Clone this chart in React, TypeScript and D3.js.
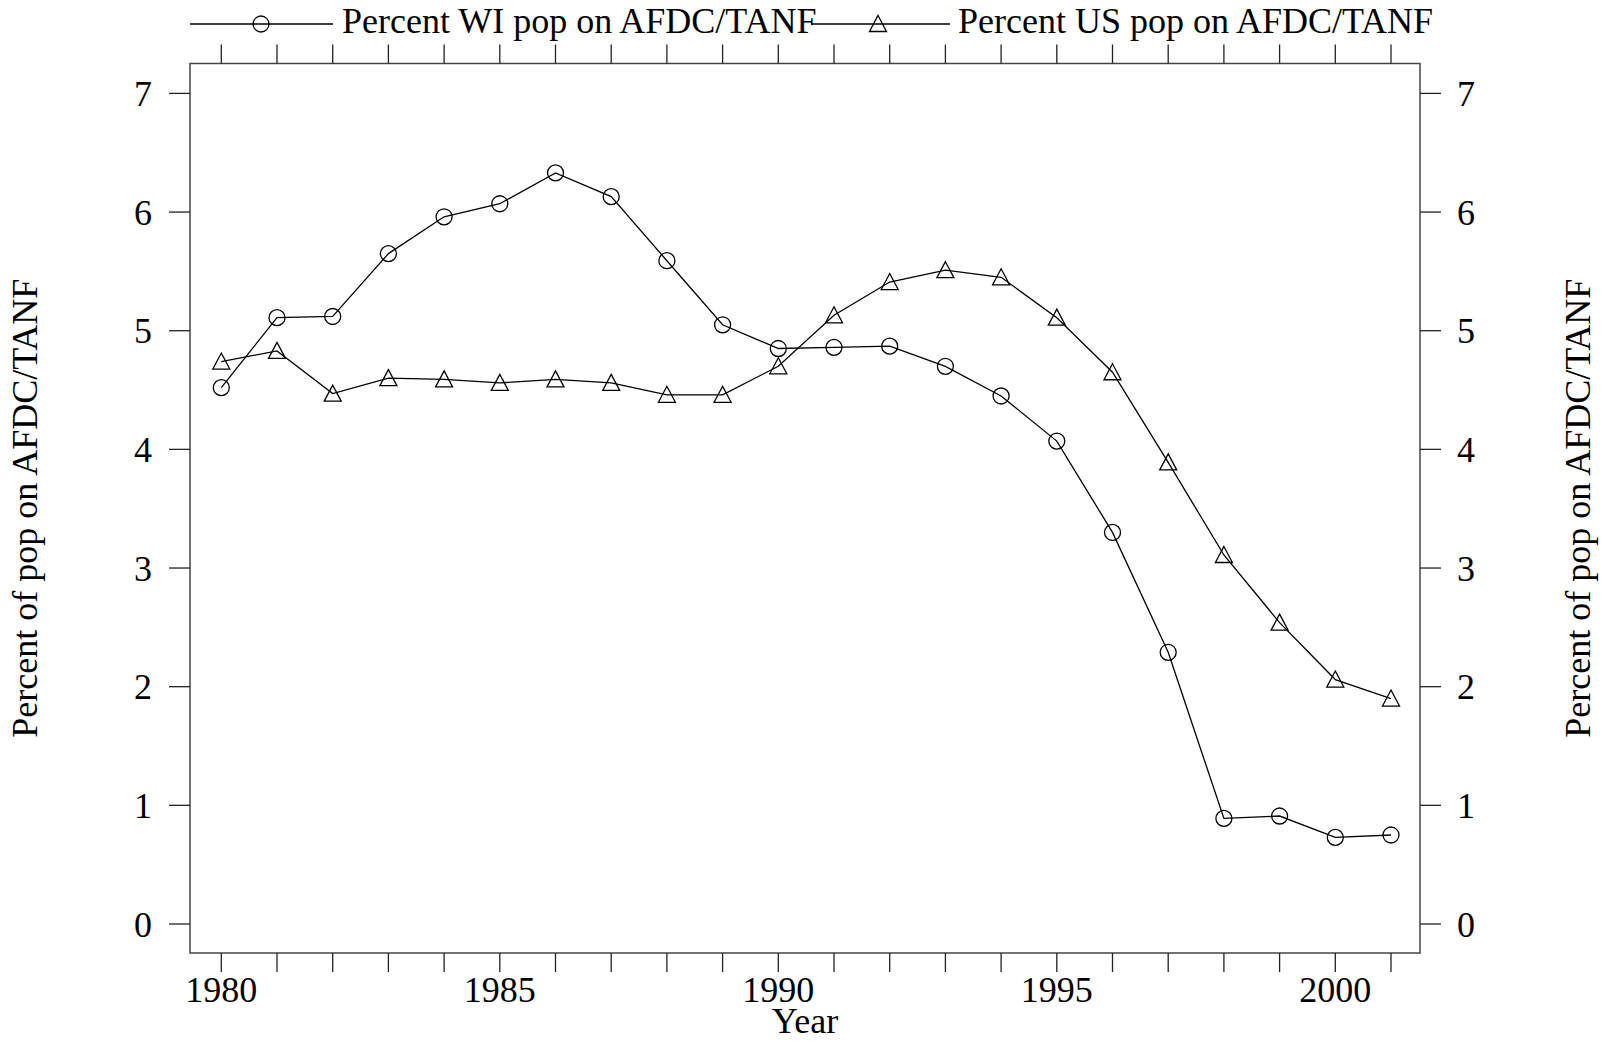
import React from 'react';
import * as d3 from 'd3';

// years on the x axis
const years = [1980, 1981, 1982, 1983, 1984, 1985, 1986, 1987, 1988, 1989, 1990,
  1991, 1992, 1993, 1994, 1995, 1996, 1997, 1998, 1999, 2000, 2001];

// percent of Wisconsin population on AFDC/TANF
const wiPct = [4.52, 5.11, 5.12, 5.65, 5.96, 6.07, 6.33, 6.13, 5.59, 5.05, 4.85,
  4.86, 4.87, 4.70, 4.45, 4.07, 3.30, 2.29, 0.89, 0.91, 0.73, 0.75];

// percent of US population on AFDC/TANF
const usPct = [4.74, 4.83, 4.47, 4.60, 4.59, 4.56, 4.59, 4.56, 4.46, 4.46, 4.70,
  5.13, 5.41, 5.51, 5.45, 5.11, 4.65, 3.89, 3.11, 2.54, 2.06, 1.90];

const xLabels = [1980, 1985, 1990, 1995, 2000];
const yTicks = [0, 1, 2, 3, 4, 5, 6, 7];

const seriesNames = ['Percent WI pop on AFDC/TANF', 'Percent US pop on AFDC/TANF'];
const yTitle = 'Percent of pop on AFDC/TANF';
const xTitle = 'Year';

const W = 1610, H = 1042;
const left = 190, right = 1420, top = 63.5, bottom = 953;
const font = '"Liberation Serif", "Times New Roman", serif';
const fs = 36;

const x = d3.scaleLinear().domain([1980, 2001]).range([221.3, 1391]);
const y = d3.scaleLinear().domain([0, 7]).range([924, 93.4]);

const line = d3.line<number>()
  .x((d, i) => x(years[i]))
  .y(d => y(d));

// triangle path centred on its box
const tri = 'M0,-8.5 L8.5,7.5 L-8.5,7.5 Z';

function Circle({ cx, cy }: { cx: number; cy: number }) {
  return <circle cx={cx} cy={cy} r={8} fill="none" stroke="#000" strokeWidth={1.3} />;
}
function Tri({ cx, cy }: { cx: number; cy: number }) {
  return <path d={tri} transform={`translate(${cx},${cy})`} fill="none" stroke="#000" strokeWidth={1.3} />;
}

export default function App() {
  const tickStroke = '#222';
  return (
    <svg width={W} height={H} style={{ position: 'absolute', left: 0, top: 0, background: '#fff' }}
      fontFamily={font}>
      <rect x={0} y={0} width={W} height={H} fill="#fff" />

      {/* legend */}
      <g>
        <line x1={190} x2={333} y1={24} y2={24} stroke="#000" strokeWidth={1.3} />
        <Circle cx={261} cy={24} />
        <text x={342} y={33} fontSize={fs}>{seriesNames[0]}</text>
        <line x1={811} x2={950} y1={24} y2={24} stroke="#000" strokeWidth={1.3} />
        <Tri cx={878} cy={24} />
        <text x={958} y={33} fontSize={fs}>{seriesNames[1]}</text>
      </g>

      {/* frame */}
      <rect x={left} y={top} width={right - left} height={bottom - top}
        fill="none" stroke="#444" strokeWidth={1.5} />

      {/* x ticks top and bottom */}
      {years.map(yr => (
        <g key={yr}>
          <line x1={x(yr)} x2={x(yr)} y1={bottom} y2={bottom + 19} stroke={tickStroke} strokeWidth={1.3} />
          <line x1={x(yr)} x2={x(yr)} y1={top} y2={top - 19} stroke={tickStroke} strokeWidth={1.3} />
        </g>
      ))}
      {xLabels.map(yr => (
        <text key={yr} x={x(yr)} y={1002} fontSize={fs} textAnchor="middle">{yr}</text>
      ))}
      <text x={(left + right) / 2} y={1033} fontSize={fs} textAnchor="middle">{xTitle}</text>

      {/* y ticks left and right */}
      {yTicks.map(t => (
        <g key={t}>
          <line x1={left - 21} x2={left} y1={y(t)} y2={y(t)} stroke={tickStroke} strokeWidth={1.3} />
          <line x1={right} x2={right + 21} y1={y(t)} y2={y(t)} stroke={tickStroke} strokeWidth={1.3} />
          <text x={152} y={y(t)} dy="0.35em" fontSize={fs} textAnchor="end">{t}</text>
          <text x={1457} y={y(t)} dy="0.35em" fontSize={fs} textAnchor="start">{t}</text>
        </g>
      ))}
      <text transform={`translate(37,${(top + bottom) / 2}) rotate(-90)`} fontSize={fs} textAnchor="middle">{yTitle}</text>
      <text transform={`translate(1590,${(top + bottom) / 2}) rotate(-90)`} fontSize={fs} textAnchor="middle">{yTitle}</text>

      {/* series */}
      <path d={line(wiPct) || ''} fill="none" stroke="#000" strokeWidth={1.3} />
      <path d={line(usPct) || ''} fill="none" stroke="#000" strokeWidth={1.3} />
      {wiPct.map((v, i) => <Circle key={'w' + i} cx={x(years[i])} cy={y(v)} />)}
      {usPct.map((v, i) => <Tri key={'u' + i} cx={x(years[i])} cy={y(v)} />)}
    </svg>
  );
}
